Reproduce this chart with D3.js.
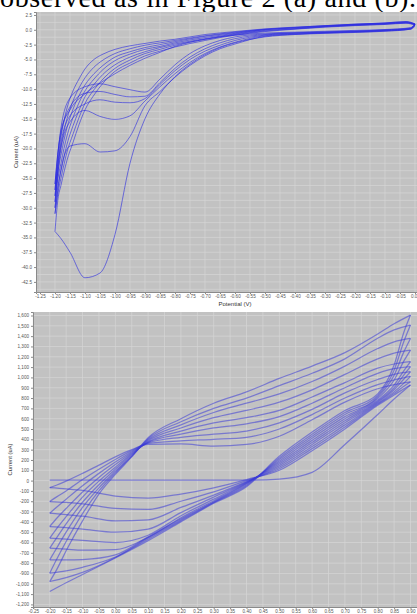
<!DOCTYPE html>
<html>
<head>
<meta charset="utf-8">
<script src="https://cdn.jsdelivr.net/npm/d3@7"></script>
<style>
  body { margin: 0; background: #fff; }
  svg { display: block; }
</style>
</head>
<body>
<svg id="vis" width="417" height="614"></svg>
<script>
// panel (a): sweeps between 0 V and -1.2 V, current in uA
const topCathodicV = [0, -0.015, -0.1, -0.2, -0.3, -0.4, -0.5, -0.6, -0.65, -0.7, -0.75, -0.8, -0.85, -0.9, -0.95, -1.0, -1.05, -1.1, -1.15, -1.18, -1.2];
const topCathodicI = [
  [0.6, 0.1, -0.25, -0.45, -0.6, -0.8, -1.2, -2.2, -3.0, -4.2, -5.8, -7.9, -10.8, -15.0, -22.5, -34.5, -41.0, -41.8, -37.5, -35.2, -34.0],
  [0.8, 0.1, -0.2, -0.4, -0.55, -0.75, -1.1, -2.4, -3.2, -4.4, -6.0, -8.0, -10.4, -12.8, -18.0, -20.4, -20.6, -19.2, -19.6, -23.5, -31.0],
  [0.85, 0.15, -0.15, -0.35, -0.5, -0.7, -1.0, -2.1, -2.9, -4.0, -5.5, -7.4, -9.6, -12.0, -14.5, -15.1, -14.6, -13.6, -15.5, -20.0, -30.0],
  [0.9, 0.2, -0.1, -0.3, -0.45, -0.6, -0.9, -1.8, -2.6, -3.6, -5.0, -6.9, -9.2, -11.6, -12.3, -12.2, -11.8, -12.5, -14.5, -19.0, -29.0],
  [0.9, 0.25, -0.05, -0.25, -0.4, -0.55, -0.8, -1.5, -2.2, -3.2, -4.6, -6.5, -8.9, -11.2, -11.3, -10.9, -10.4, -10.7, -13.0, -18.0, -28.0],
  [0.95, 0.3, 0.0, -0.2, -0.35, -0.5, -0.7, -1.2, -1.8, -2.7, -4.0, -5.9, -8.3, -10.5, -10.1, -9.6, -9.1, -9.6, -11.5, -16.5, -27.0],
  [1.0, 0.35, 0.05, -0.1, -0.25, -0.4, -0.55, -0.9, -1.2, -1.6, -2.1, -2.8, -3.8, -4.8, -6.0, -7.4, -9.0, -10.8, -13.5, -17.0, -26.0]
];
const topAnodicV = [-1.2, -1.19, -1.18, -1.17, -1.16, -1.14, -1.12, -1.1, -1.07, -1.04, -1.0, -0.95, -0.9, -0.85, -0.8, -0.7, -0.6, -0.5, -0.4, -0.3, -0.2, -0.1, -0.03, 0];
const topAnodicI = [
  [-34.0, -28.5, -26.2, -24.0, -22.0, -19.0, -16.0, -13.5, -11.0, -9.0, -7.0, -5.6, -4.4, -3.6, -2.9, -1.8, -0.9, -0.3, 0.1, 0.45, 0.7, 0.9, 1.1, 0.8],
  [-31.0, -27.5, -25.0, -22.7, -20.6, -17.6, -14.8, -12.4, -10.1, -8.3, -6.5, -5.1, -4.0, -3.3, -2.6, -1.6, -0.8, -0.2, 0.15, 0.5, 0.75, 0.95, 1.15, 0.85],
  [-30.0, -26.3, -23.8, -21.4, -19.3, -16.2, -13.6, -11.3, -9.2, -7.5, -5.9, -4.6, -3.7, -3.0, -2.4, -1.5, -0.7, -0.1, 0.2, 0.55, 0.8, 1.0, 1.2, 0.9],
  [-29.0, -25.0, -22.5, -20.0, -17.9, -14.8, -12.3, -10.3, -8.3, -6.7, -5.2, -4.1, -3.3, -2.8, -2.2, -1.3, -0.6, 0.0, 0.3, 0.6, 0.85, 1.05, 1.25, 0.9],
  [-28.0, -23.8, -21.1, -18.6, -16.5, -13.4, -11.1, -9.3, -7.4, -6.0, -4.6, -3.7, -3.0, -2.5, -2.0, -1.1, -0.5, 0.05, 0.35, 0.65, 0.9, 1.1, 1.3, 0.95],
  [-27.0, -22.5, -19.6, -17.1, -15.0, -12.0, -9.8, -8.1, -6.3, -5.1, -4.0, -3.2, -2.6, -2.2, -1.8, -1.0, -0.4, 0.1, 0.4, 0.7, 0.95, 1.15, 1.35, 1.0],
  [-26.0, -20.5, -17.5, -15.3, -13.2, -10.3, -8.3, -6.6, -5.0, -4.1, -3.3, -2.7, -2.3, -1.9, -1.6, -0.8, -0.3, 0.15, 0.45, 0.7, 0.95, 1.15, 1.4, 1.0]
];
const topXTicks = d3.range(0, 26).map(i => -1.25 + i * 0.05);
const topYTicks = d3.range(0, 19).map(i => -42.5 + i * 2.5);
const topYGrid = d3.range(0, 38).map(i => -43.75 + i * 1.25);

// panel (b): sweeps between -0.2 V and 0.9 V, current in uA
const bottomAnodicV = [-0.2, -0.18, -0.15, -0.1, -0.05, 0.0, 0.05, 0.1, 0.2, 0.3, 0.4, 0.5, 0.6, 0.7, 0.8, 0.85, 0.9];
const bottomAnodicI = [
  [5, 5, 5, 5, 5, 5, 5, 5, 5, 5, 5, 15, 80, 350, 640, 790, 926],
  [-68, -45, -5, 70, 150, 230, 300, 350, 355, 335, 350, 430, 590, 760, 890, 930, 958],
  [-203, -160, -100, 10, 110, 205, 290, 360, 385, 400, 420, 500, 640, 800, 930, 975, 1010],
  [-316, -260, -180, -50, 70, 180, 280, 365, 420, 450, 480, 560, 690, 850, 980, 1030, 1055],
  [-445, -370, -270, -110, 30, 155, 270, 370, 450, 510, 550, 620, 750, 900, 1040, 1085, 1104],
  [-558, -470, -350, -160, -5, 130, 260, 375, 480, 560, 610, 680, 810, 950, 1090, 1130, 1152],
  [-655, -560, -420, -210, -40, 110, 250, 385, 510, 610, 680, 760, 880, 1030, 1180, 1235, 1265],
  [-768, -660, -500, -260, -70, 90, 240, 395, 540, 660, 750, 840, 960, 1110, 1280, 1345, 1378],
  [-897, -770, -590, -320, -100, 75, 235, 405, 570, 700, 800, 920, 1040, 1180, 1380, 1460, 1507],
  [-978, -870, -680, -390, -130, 60, 230, 415, 600, 750, 860, 990, 1110, 1240, 1420, 1520, 1604]
];
const bottomCathodicV = [0.9, 0.88, 0.85, 0.8, 0.7, 0.6, 0.5, 0.4, 0.3, 0.2, 0.1, 0.0, -0.1, -0.15, -0.2];
const bottomCathodicI = [
  [926, 890, 830, 730, 500, 290, 100, 10, -70, -130, -170, -150, -95, -80, -68],
  [958, 915, 845, 740, 520, 310, 115, 0, -110, -200, -280, -270, -225, -212, -203],
  [1010, 945, 860, 750, 540, 330, 130, -10, -140, -260, -380, -390, -345, -330, -316],
  [1055, 985, 880, 760, 560, 350, 145, -15, -160, -310, -470, -500, -470, -455, -445],
  [1104, 1025, 900, 770, 580, 370, 160, -20, -180, -340, -530, -600, -580, -568, -558],
  [1152, 1065, 925, 780, 600, 390, 175, -25, -195, -360, -550, -670, -675, -665, -655],
  [1265, 1160, 975, 795, 620, 410, 190, -30, -205, -370, -545, -720, -765, -768, -768],
  [1378, 1250, 1020, 810, 640, 430, 205, -40, -210, -380, -555, -740, -840, -875, -897],
  [1507, 1350, 1070, 825, 660, 450, 220, -50, -215, -390, -568, -745, -890, -940, -978],
  [1604, 1440, 1120, 840, 680, 470, 235, -60, -220, -400, -582, -750, -910, -990, -1075]
];
const bottomXTicks = d3.range(0, 24).map(i => -0.25 + i * 0.05);
const bottomYTicks = d3.range(0, 29).map(i => -1200 + i * 100);

const topBox = { left: 36, right: 417, top: 12, bottom: 292 };
const bottomBox = { left: 33, right: 417, top: 312, bottom: 607 };

translate = function(a, b) {
  return "translate(" + a + ", " + b + ")";
}

commaFormat = function(d) {
  return (d < 0 ? "-" : "") + d3.format(",")(Math.abs(d));
}

drawPanel = function(svg, box, x, y, opts) {
  let panel = svg.append("g");

  panel.append("rect")
    .attr("x", box.left)
    .attr("y", box.top)
    .attr("width", box.right - box.left)
    .attr("height", box.bottom - box.top)
    .attr("fill", "#c2c2c2");

  let grid = panel.append("g")
    .attr("stroke", "#d6d6d6")
    .attr("stroke-width", 0.7);

  grid.selectAll("line.v")
    .data(opts.xGrid)
    .enter().append("line")
    .attr("class", "v")
    .attr("x1", d => x(d)).attr("x2", d => x(d))
    .attr("y1", box.top).attr("y2", box.bottom);

  grid.selectAll("line.h")
    .data(opts.yGrid)
    .enter().append("line")
    .attr("class", "h")
    .attr("x1", box.left).attr("x2", box.right)
    .attr("y1", d => y(d)).attr("y2", d => y(d));

  let line = d3.line()
    .x(d => x(d[0]))
    .y(d => y(d[1]))
    .curve(d3.curveMonotoneX);

  // each cycle = one sweep out and one sweep back
  let sweeps = [];
  for (let i = 0; i < opts.first.length; i++) {
    sweeps.push(d3.zip(opts.firstV, opts.first[i]));
    sweeps.push(d3.zip(opts.secondV, opts.second[i]));
  }

  panel.append("g")
    .selectAll("path")
    .data(sweeps)
    .enter().append("path")
    .attr("d", line)
    .attr("fill", "none")
    .attr("stroke", opts.color)
    .attr("stroke-opacity", opts.opacity)
    .attr("stroke-width", opts.width);

  let yAxis = panel.append("g")
    .attr("transform", translate(box.left, 0))
    .call(d3.axisLeft(y).tickValues(opts.yTicks).tickFormat(opts.yFormat).tickSize(2).tickPadding(2));

  let xAxis = panel.append("g")
    .attr("transform", translate(0, box.bottom))
    .call(d3.axisBottom(x).tickValues(opts.xTicks).tickFormat(d => d.toFixed(2)).tickSize(2).tickPadding(1));

  [yAxis, xAxis].forEach(function(a) {
    a.select(".domain").attr("stroke", "#8a8a8a");
    a.selectAll(".tick line").attr("stroke", "#8a8a8a");
    a.selectAll(".tick text")
      .attr("fill", "#555")
      .style("font-family", "'Liberation Sans', Arial, sans-serif")
      .style("font-size", "4.6px");
  });

  panel.append("text")
    .attr("transform", translate(opts.yLabelX, (box.top + box.bottom) / 2) + " rotate(-90)")
    .attr("text-anchor", "middle")
    .attr("dominant-baseline", "central")
    .attr("fill", "#333")
    .style("font-family", "'Liberation Sans', Arial, sans-serif")
    .style("font-size", "5.8px")
    .text("Current (uA)");

  return panel;
}

const svg = d3.select("#vis");

svg.append("text")
  .attr("x", 0)
  .attr("y", 6.5)
  .attr("textLength", 416)
  .attr("lengthAdjust", "spacing")
  .style("font-family", "'Liberation Serif', 'Times New Roman', serif")
  .style("font-size", "28px")
  .attr("fill", "#000")
  .text("observed as in Figure 2 (a) and (b).");

let xTop = d3.scaleLinear().domain([-1.2633, 0.0067]).range([topBox.left, topBox.right]);
let yTop = d3.scaleLinear().domain([-44.2, 3.0]).range([topBox.bottom, topBox.top]);

drawPanel(svg, topBox, xTop, yTop, {
  first: topCathodicI, firstV: topCathodicV,
  second: topAnodicI, secondV: topAnodicV,
  xTicks: topXTicks, yTicks: topYTicks,
  xGrid: topXTicks, yGrid: topYGrid,
  yFormat: d => d.toFixed(1),
  color: "rgb(40,40,225)", opacity: 0.6, width: 1.0,
  yLabelX: 15.5
});

svg.append("text")
  .attr("x", 235)
  .attr("y", 306)
  .attr("text-anchor", "middle")
  .attr("fill", "#333")
  .style("font-family", "'Liberation Sans', Arial, sans-serif")
  .style("font-size", "6px")
  .text("Potential (V)");

let xBottom = d3.scaleLinear().domain([-0.251, 0.9198]).range([bottomBox.left, bottomBox.right]);
let yBottom = d3.scaleLinear().domain([-1225, 1634]).range([bottomBox.bottom, bottomBox.top]);

drawPanel(svg, bottomBox, xBottom, yBottom, {
  first: bottomAnodicI, firstV: bottomAnodicV,
  second: bottomCathodicI, secondV: bottomCathodicV,
  xTicks: bottomXTicks, yTicks: bottomYTicks,
  xGrid: bottomXTicks, yGrid: bottomYTicks,
  yFormat: commaFormat,
  color: "rgb(60,60,215)", opacity: 0.55, width: 1.25,
  yLabelX: 10
});
</script>
</body>
</html>
